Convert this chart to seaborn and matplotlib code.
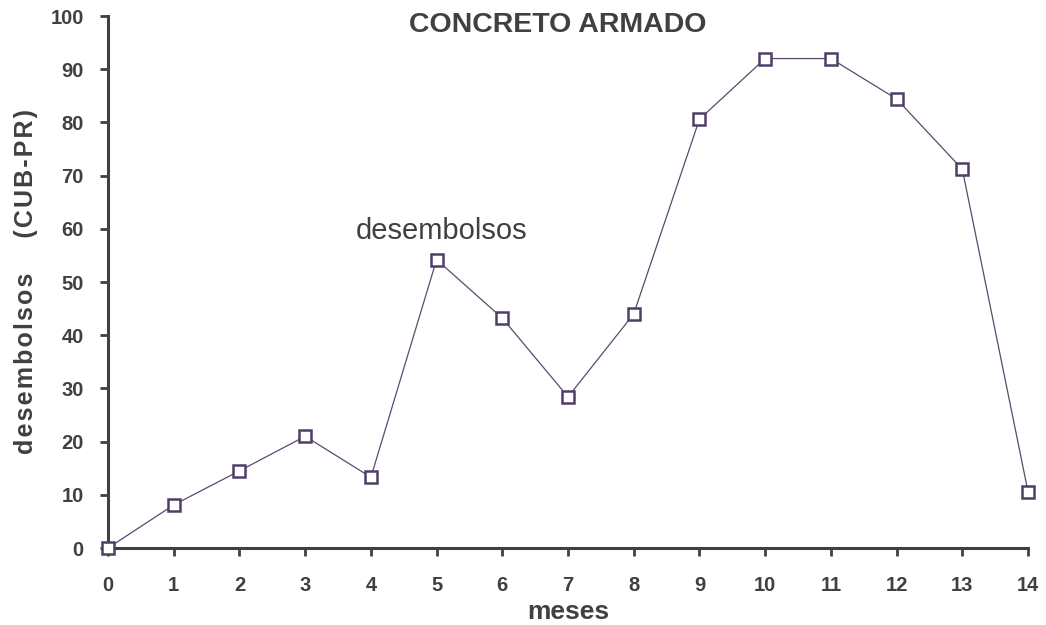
import matplotlib
matplotlib.use("Agg")
import matplotlib.pyplot as plt
import seaborn as sns
import pandas as pd

meses = [0, 1, 2, 3, 4, 5, 6, 7, 8, 9, 10, 11, 12, 13, 14]
desembolsos = [0, 8.1, 14.5, 21.0, 13.3, 54.2, 43.2, 28.4, 44.0, 80.6, 92.0, 92.0, 84.4, 71.2, 10.6]
x_ticks = list(range(0, 15))
y_ticks = list(range(0, 101, 10))

sns.set_style("white")
plt.rcParams['font.family'] = ['Liberation Sans', 'DejaVu Sans']

TXT = "#404040"
LINE = "#5a4a6e"

fig = plt.figure(figsize=(10.46, 6.25), dpi=100)
ax = fig.add_axes([0.1033, 0.1232, 0.8795, 0.8512])

df = pd.DataFrame({"meses": meses, "desembolsos": desembolsos})
sns.lineplot(data=df, x="meses", y="desembolsos", ax=ax, color=LINE, linewidth=0.9,
             marker="s", markersize=9, markerfacecolor="white", markeredgecolor="#4f3f66",
             markeredgewidth=1.8, clip_on=False, zorder=5)

ax.set_xlim(0, 14)
ax.set_ylim(0, 100)
ax.set_xticks(x_ticks)
ax.set_yticks(y_ticks)
for s in ["top", "right"]:
    ax.spines[s].set_visible(False)
for s in ["left", "bottom"]:
    ax.spines[s].set_color(TXT)
    ax.spines[s].set_linewidth(2.2)
ax.tick_params(axis="both", direction="out", length=5.5, width=2, color=TXT,
               labelcolor=TXT, labelsize=14.5, bottom=True, left=True)
ax.tick_params(axis="x", pad=15)
ax.tick_params(axis="y", pad=12)
for lab in ax.get_xticklabels() + ax.get_yticklabels():
    lab.set_fontweight("bold")

def spaced(s):
    return "\u200a".join(s)

ax.set_xlabel("meses", fontsize=19, fontweight="bold", color=TXT, labelpad=3)
ax.set_ylabel(spaced("desembolsos") + "     " + spaced("(CUB-PR)"), fontsize=18,
              fontweight="bold", color=TXT, labelpad=9)
ax.set_title("CONCRETO ARMADO", fontsize=20.5, fontweight="bold", color=TXT,
             x=0.489, y=0.970, pad=0)

ax.text(5.08, 59.5, "desembolsos", fontsize=21, color=TXT, ha="center", va="center")

fig.savefig("out.png", dpi=100)
